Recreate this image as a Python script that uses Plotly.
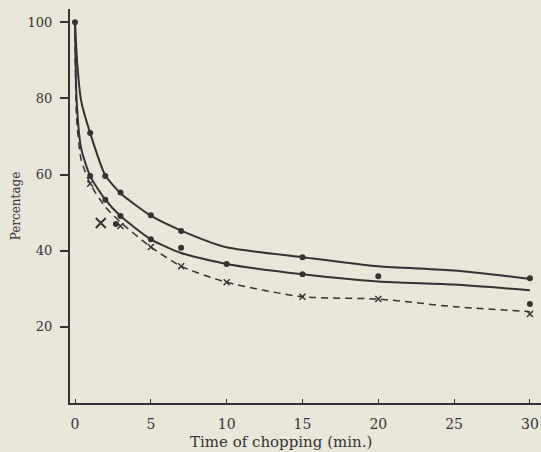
import plotly.graph_objects as go

# ---- data ----
upper_line_t = [0, 0.15, 0.4, 1, 2, 3, 5, 7, 10, 15, 20, 25, 30]
upper_line_v = [100, 89, 79.5, 70.9, 59.8, 55.1, 49.2, 45.3, 40.9, 38.3, 35.9, 34.8, 32.6]
upper_obs_t = [0, 1, 2, 3, 5, 7, 15, 30]
upper_obs_v = [100, 70.9, 59.6, 55.3, 49.3, 45.2, 38.3, 32.8]

middle_line_t = [0, 0.1, 0.4, 1, 2, 3, 5, 7, 10, 15, 20, 25, 30]
middle_line_v = [100, 80, 67, 59.6, 53.4, 49.1, 43.0, 39.4, 36.5, 33.8, 31.9, 31.1, 29.6]
middle_obs_t = [1, 2, 3, 5, 7, 10, 15, 20, 30]
middle_obs_v = [59.6, 53.4, 49.1, 43.0, 40.8, 36.5, 33.8, 33.3, 26.0]
extra_dot_t = [2.7]
extra_dot_v = [47.0]

lower_line_t = [0, 0.1, 0.4, 1, 2, 3, 5, 7, 10, 15, 20, 25, 30]
lower_line_v = [100, 75, 64, 57.6, 51.5, 47.5, 41.0, 35.9, 31.7, 27.9, 27.3, 25.3, 24.0]
lower_obs_t = [1, 3, 5, 7, 10, 15, 20, 30]
lower_obs_v = [57.6, 46.5, 41.0, 35.9, 31.7, 27.9, 27.3, 23.4]
big_x_t = [1.7]
big_x_v = [47.3]

x_ticks = [0, 5, 10, 15, 20, 25, 30]
y_ticks = [20, 40, 60, 80, 100]

ink = "#353232"
bg = "#e9e6da"
font = "DejaVu Serif"

fig = go.Figure()
fig.add_trace(go.Scatter(x=upper_line_t, y=upper_line_v, mode="lines",
                         line=dict(color=ink, width=2, shape="spline", smoothing=0.6)))
fig.add_trace(go.Scatter(x=middle_line_t, y=middle_line_v, mode="lines",
                         line=dict(color=ink, width=2, shape="spline", smoothing=0.6)))
fig.add_trace(go.Scatter(x=lower_line_t, y=lower_line_v, mode="lines",
                         line=dict(color=ink, width=1.5, dash="7px,5px", shape="spline", smoothing=0.6)))
fig.add_trace(go.Scatter(x=upper_obs_t, y=upper_obs_v, mode="markers",
                         marker=dict(color=ink, size=6, symbol="circle")))
fig.add_trace(go.Scatter(x=middle_obs_t + extra_dot_t, y=middle_obs_v + extra_dot_v, mode="markers",
                         marker=dict(color=ink, size=6, symbol="circle")))
fig.add_trace(go.Scatter(x=lower_obs_t, y=lower_obs_v, mode="markers",
                         marker=dict(color=ink, size=6, symbol="x-thin", line=dict(color=ink, width=1.5))))
fig.add_trace(go.Scatter(x=big_x_t, y=big_x_v, mode="markers",
                         marker=dict(color=ink, size=10, symbol="x-thin", line=dict(color=ink, width=2))))

fig.update_layout(
    width=541, height=452,
    margin=dict(l=70, r=0, t=9, b=49),
    paper_bgcolor=bg, plot_bgcolor=bg,
    showlegend=False,
    font=dict(family=font, size=13, color=ink),
    xaxis=dict(range=[-0.33, 30.73], tickvals=x_ticks, ticks="inside", ticklen=4,
               tickcolor=ink, showline=True, linecolor=ink, linewidth=2,
               showgrid=False, zeroline=False, tickfont=dict(size=14),
               ticklabelstandoff=7),
    yaxis=dict(range=[0, 103.5], tickvals=y_ticks, ticks="outside", ticklen=8, tickwidth=1.5,
               tickcolor=ink, showline=True, linecolor=ink, linewidth=2,
               showgrid=False, zeroline=False, tickfont=dict(size=13),
               ticklabelstandoff=5,
               title=dict(text="Percentage", font=dict(size=12), standoff=4)),
)
fig.add_annotation(text="Time of chopping (min.)", xref="paper", yref="paper",
                   x=0.448, y=0, yshift=-39, showarrow=False, yanchor="middle",
                   font=dict(size=15, family=font, color=ink))

fig.write_html("out.html", config={"displayModeBar": False},
               post_script="document.body.style.margin='0';document.body.style.padding='0';"
                           "document.body.style.overflow='hidden';")
